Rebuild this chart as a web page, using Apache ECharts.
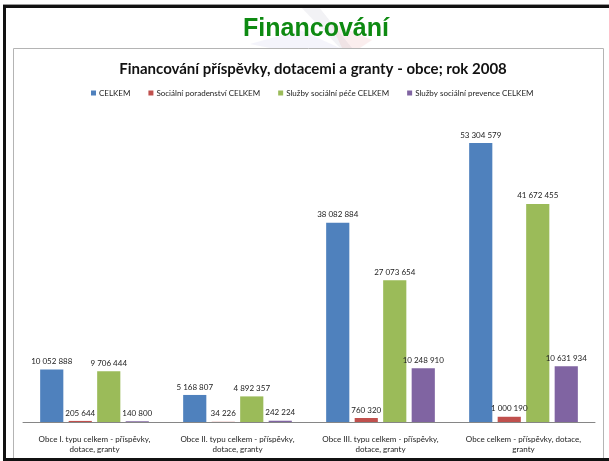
<!DOCTYPE html>
<html>
<head>
<meta charset="utf-8">
<script src="https://cdn.jsdelivr.net/npm/echarts@6/dist/echarts.min.js"></script>
<style>
  html, body { margin: 0; padding: 0; background: #fff; }
  #main { width: 609px; height: 461px; }
</style>
</head>
<body>
<div id="main"></div>
<script>
let chart = echarts.init(document.querySelector('#main'))

// kategorie na ose x
const categories = [
  'Obce I. typu celkem - příspěvky,\ndotace, granty',
  'Obce II. typu celkem - příspěvky,\ndotace, granty',
  'Obce III. typu celkem - příspěvky,\ndotace, granty',
  'Obce celkem - příspěvky, dotace,\ngranty'
]

const seriesNames = [
  'CELKEM',
  'Sociální poradenství CELKEM',
  'Služby sociální péče CELKEM',
  'Služby sociální prevence CELKEM'
]

const celkem = [10052888, 5168807, 38082884, 53304579]
const poradenstvi = [205644, 34226, 760320, 1000190]
const pece = [9706444, 4892357, 27073654, 41672455]
const prevence = [140800, 242224, 10248910, 10631934]

const colors = ['#4F81BD', '#C0504D', '#9BBB59', '#8064A2']
const font = 'Lato'

// 10052888 -> "10 052 888"
function fmt (v) {
  return String(v).replace(/\B(?=(\d{3})+(?!\d))/g, ' ')
}

function bar (name, data) {
  return {
    type: 'bar',
    name: name,
    data: data,
    barGap: '23%',
    barCategoryGap: '24%',
    label: {
      show: true,
      position: 'top',
      distance: 4,
      fontFamily: font,
      fontSize: 8,
      color: '#222',
      formatter: p => fmt(p.value)
    }
  }
}

let option = {
  color: colors,
  animation: false,
  title: [
    {
      text: 'Financování',
      left: 311,
      textAlign: 'center',
      top: 12,
      textStyle: {
        fontFamily: 'Liberation Sans',
        fontWeight: 'bold',
        fontSize: 25,
        color: '#0E8A12'
      }
    },
    {
      text: 'Financování příspěvky, dotacemi a granty - obce; rok 2008',
      left: 308,
      textAlign: 'center',
      top: 57,
      textStyle: {
        fontFamily: font,
        fontWeight: 'bold',
        fontSize: 15,
        color: '#111'
      }
    }
  ],
  legend: {
    data: seriesNames,
    left: 86,
    top: 84,
    icon: 'rect',
    itemWidth: 5,
    itemHeight: 5,
    itemGap: 18,
    textStyle: { fontFamily: font, fontSize: 8, color: '#222', padding: [0, 0, 0, -2] }
  },
  // ramecek snimku a grafu
  graphic: [
    { type: 'polygon', silent: true, shape: { points: [[300, 6], [318, 6], [352, 48], [340, 48]] }, style: { fill: 'rgba(150,150,170,0.12)' } },
    { type: 'polygon', silent: true, shape: { points: [[330, 22], [372, 40], [360, 48], [342, 48]] }, style: { fill: 'rgba(220,90,90,0.10)' } },
    { type: 'polygon', silent: true, shape: { points: [[250, 44], [300, 30], [340, 48], [270, 48]] }, style: { fill: 'rgba(110,110,200,0.08)' } },
    { type: 'rect', silent: true, shape: { x: 13.5, y: 48.5, width: 590, height: 410 }, style: { fill: 'none', stroke: '#b4b4b4', lineWidth: 1 } },
    { type: 'rect', silent: true, shape: { x: 3, y: 4, width: 606, height: 1 }, style: { fill: '#9a9a9a' } },
    { type: 'rect', silent: true, shape: { x: 3, y: 5, width: 606, height: 3 }, style: { fill: '#111' } },
    { type: 'rect', silent: true, shape: { x: 3, y: 5, width: 3, height: 456 }, style: { fill: '#111' } },
    { type: 'rect', silent: true, shape: { x: 3, y: 458, width: 606, height: 3 }, style: { fill: '#111' } }
  ],
  grid: {
    left: 23,
    right: 14,
    top: 108,
    bottom: 39
  },
  xAxis: {
    type: 'category',
    data: categories,
    axisLine: { lineStyle: { color: '#868686', width: 1 } },
    axisTick: { show: false },
    axisLabel: {
      interval: 0,
      margin: 12,
      fontFamily: font,
      fontSize: 8,
      lineHeight: 10,
      color: '#222'
    }
  },
  yAxis: {
    type: 'value',
    min: 0,
    max: 60000000,
    show: false,
    splitLine: { show: false }
  },
  series: [
    bar(seriesNames[0], celkem),
    bar(seriesNames[1], poradenstvi),
    bar(seriesNames[2], pece),
    bar(seriesNames[3], prevence)
  ]
}

chart.setOption(option)
</script>
</body>
</html>
